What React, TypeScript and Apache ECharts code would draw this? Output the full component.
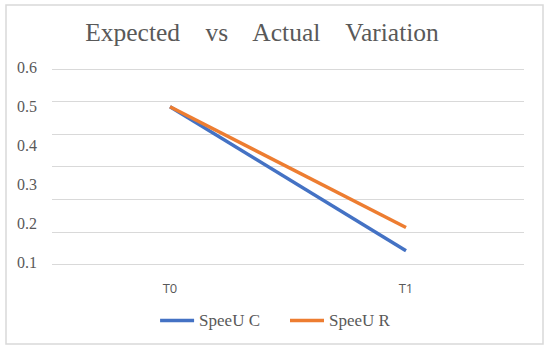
import React, { useEffect, useRef } from "react";
import * as echarts from "echarts";

const categories = ["T0", "T1"];
const seriesNames = ["SpeeU C", "SpeeU R"];
const speeuC = [0.5, 0.13];
const speeuR = [0.5, 0.19];
const titleText = "Expected    vs    Actual    Variation";

export default function App() {
  const ref = useRef<HTMLDivElement>(null);
  useEffect(() => {
    if (!ref.current) return;
    const chart = echarts.init(ref.current, null, { renderer: "svg" });
    const gridLeft = 52;
    const gridWidth = 472;
    chart.setOption({
      animation: false,
      backgroundColor: "#ffffff",
      color: ["#4472C4", "#ED7D31"],
      graphic: [
        {
          type: "rect",
          shape: { x: 6, y: 5, width: 537, height: 339 },
          style: { fill: "none", stroke: "#d9d9d9", lineWidth: 1.5 },
          silent: true,
          z: -1,
        },
        {
          type: "text",
          x: 262,
          y: 32,
          style: {
            text: titleText,
            fill: "#595959",
            font: "25.5px 'Liberation Serif', serif",
            align: "center",
            verticalAlign: "middle",
          },
        },
      ],
      grid: [
        { left: gridLeft, top: 69, width: gridWidth, height: 195.3 },
        { left: gridLeft, top: 67.8, width: gridWidth, height: 194.7 },
      ],
      xAxis: [
        {
          type: "category",
          gridIndex: 0,
          data: categories,
          axisLine: { show: false },
          axisTick: { show: false },
          axisLabel: {
            color: "#595959",
            fontSize: 13,
            fontFamily: "'Open Sans', sans-serif",
            margin: 17,
          },
        },
        {
          type: "category",
          gridIndex: 1,
          data: categories,
          show: false,
        },
      ],
      yAxis: [
        {
          type: "value",
          gridIndex: 0,
          min: 0,
          max: 0.6,
          interval: 0.1,
          axisLabel: { show: false },
          axisLine: { show: false },
          axisTick: { show: false },
          splitLine: { lineStyle: { color: "#d9d9d9", width: 1 } },
        },
        {
          type: "value",
          gridIndex: 1,
          min: 0.1,
          max: 0.6,
          interval: 0.1,
          axisLine: { show: false },
          axisTick: { show: false },
          splitLine: { show: false },
          axisLabel: {
            color: "#595959",
            fontSize: 16,
            fontFamily: "'Liberation Serif', serif",
            margin: 15,
            formatter: (v: number) => v.toFixed(1),
          },
        },
      ],
      legend: {
        data: seriesNames,
        bottom: 17,
        left: "center",
        icon: "rect",
        itemWidth: 34,
        itemHeight: 3.5,
        itemGap: 30,
        textStyle: {
          color: "#595959",
          fontSize: 17,
          fontFamily: "'Liberation Serif', serif",
        },
      },
      series: [
        {
          name: seriesNames[0],
          type: "line",
          xAxisIndex: 1,
          yAxisIndex: 1,
          data: speeuC,
          symbol: "none",
          lineStyle: { width: 3.5, color: "#4472C4" },
        },
        {
          name: seriesNames[1],
          type: "line",
          xAxisIndex: 1,
          yAxisIndex: 1,
          data: speeuR,
          symbol: "none",
          lineStyle: { width: 3.5, color: "#ED7D31" },
        },
      ],
    });
    return () => chart.dispose();
  }, []);
  return (
    <div
      ref={ref}
      style={{ position: "fixed", left: 0, top: 0, width: 550, height: 351 }}
    />
  );
}
